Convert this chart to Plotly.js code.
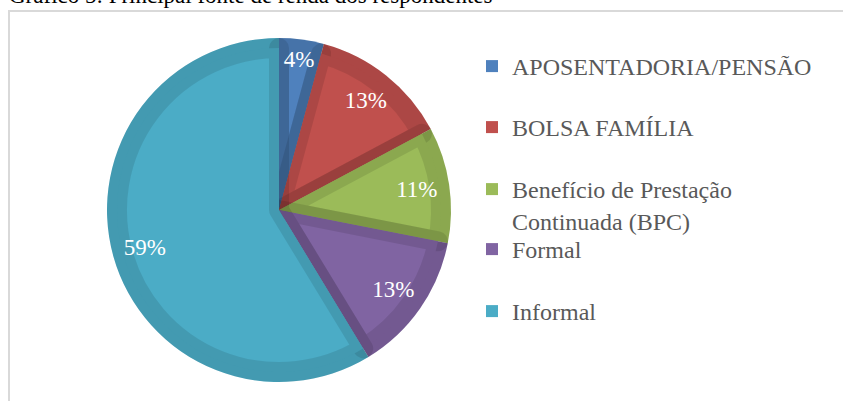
<!DOCTYPE html>
<html>
<head>
<meta charset="utf-8">
<script src="https://cdn.plot.ly/plotly-3.0.1.min.js"></script>
<style>html,body{margin:0;padding:0;background:#fff;}#chart{width:843px;height:401px;}</style>
</head>
<body>
<div id="chart"></div>
<script>
// Data
const categories = ['APOSENTADORIA/PENSÃO', 'BOLSA FAMÍLIA', 'Benefício de Prestação<br>Continuada (BPC)', 'Formal', 'Informal'];
const values = [4.2, 13.0, 10.9, 13.2, 58.7];
const colors = ['#4f81bd', '#c0504d', '#9bbb59', '#8064a2', '#4bacc6'];
const chartTitle = 'Gráfico 5: Principal fonte de renda dos respondentes';

const W = 843, H = 401;
const cx = 279, cy = 210, R = 172, border = 10;
function dom(r) {
  return {
    x: [(cx - r) / W, (cx + r) / W],
    y: [(H - cy - r) / H, (H - cy + r) / H]
  };
}
const FONT = 'Liberation Serif';

const common = {
  type: 'pie', labels: categories, values: values, sort: false,
  direction: 'clockwise', rotation: 0, showlegend: false
};
const basePie = Object.assign({}, common, {
  domain: dom(R),
  marker: {colors: colors, line: {width: 0}},
  textinfo: 'none', hoverinfo: 'skip'
});
const topPie = Object.assign({}, common, {
  domain: dom(R - border),
  marker: {colors: colors, line: {width: 2 * border, color: 'rgba(0,0,0,0.1)'}},
  textinfo: 'none', hoverinfo: 'label+percent'
});
// transparent ring carrying the percentage labels (places them near the rim)
const labelRing = Object.assign({}, common, {
  domain: dom(R), hole: 0.62,
  marker: {colors: colors.map(() => 'rgba(0,0,0,0)'), line: {width: 0}},
  texttemplate: '%{percent:.0%}', textposition: 'inside',
  insidetextorientation: 'horizontal',
  textfont: {family: FONT, size: 23, color: '#ffffff'},
  hoverinfo: 'skip'
});

const legendTop = [44, 105, 167, 227, 289];
const legendTraces = categories.map((c, i) => ({
  type: 'scatter', mode: 'markers', x: [null], y: [null], name: c,
  legend: i === 0 ? 'legend' : 'legend' + (i + 1),
  marker: {symbol: 'square', size: 12, color: colors[i]},
  hoverinfo: 'skip'
}));

const layout = {
  width: W, height: H,
  margin: {l: 0, r: 0, t: 0, b: 0},
  paper_bgcolor: '#ffffff', plot_bgcolor: 'rgba(0,0,0,0)',
  xaxis: {visible: false}, yaxis: {visible: false},
  showlegend: true,
  shapes: [{
    type: 'rect', xref: 'paper', yref: 'paper',
    x0: 9 / W, x1: 1.1, y0: -0.1, y1: 1 - 11 / H,
    line: {color: '#d9d9d9', width: 2}, fillcolor: 'rgba(0,0,0,0)', layer: 'below'
  }],
  annotations: [{
    text: chartTitle, xref: 'paper', yref: 'paper',
    x: 7 / W, xanchor: 'left', y: 1 + 4 / H, yanchor: 'middle',
    showarrow: false, font: {family: FONT, size: 23, color: '#000000'}
  }]
};
legendTop.forEach((t, i) => {
  layout[i === 0 ? 'legend' : 'legend' + (i + 1)] = {
    x: 472 / W, xanchor: 'left', y: 1 - t / H, yanchor: 'top',
    font: {family: FONT, size: 24, color: '#595959'},
    valign: 'top', itemwidth: 30, bgcolor: 'rgba(0,0,0,0)'
  };
});

Plotly.newPlot('chart', [basePie, topPie, labelRing].concat(legendTraces), layout, {displayModeBar: false, staticPlot: true});
</script>
</body>
</html>
